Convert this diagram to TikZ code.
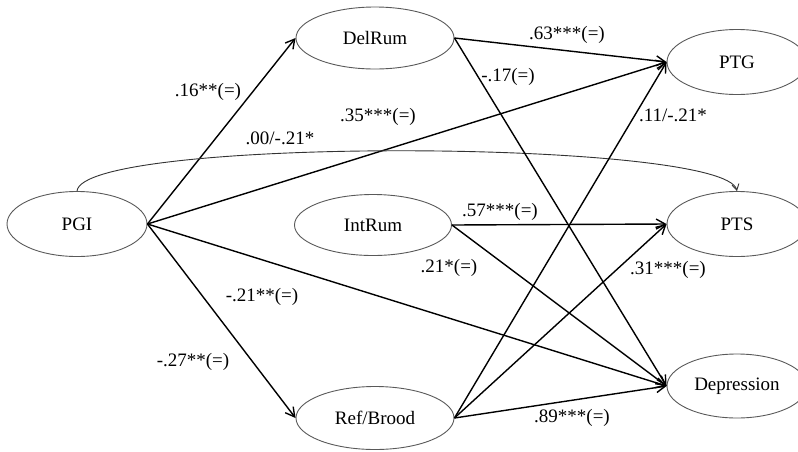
\documentclass[tikz,border=0pt]{standalone}
\usepackage{fontspec}
\setmainfont{Liberation Serif}
\usetikzlibrary{shapes.geometric, arrows.meta}

\begin{document}
\begin{tikzpicture}[x=1pt, y=-1pt,
        var/.style={ellipse, draw=black!65, line width=0.9pt, inner sep=0pt,
            font=\fontsize{19}{22}\selectfont},
        effect/.style={line width=1.4pt, -{Straight Barb[length=9pt,width=10pt]}},
        coef/.style={font=\fontsize{19}{22}\selectfont, inner sep=0pt}]

        % 0. Page frame (right-hand ellipses run off the edge)
        \useasboundingbox (0,0) rectangle (798,451);
        \clip (0,0) rectangle (798,451);

        % 1. Predictor
        \node[var, minimum width=140pt, minimum height=65pt] (PGI) at (77,224) {PGI};

        % 2. Rumination mediators
        \node[var, minimum width=158pt, minimum height=62pt] (DelRum) at (375,38) {DelRum};
        \node[var, minimum width=157pt, minimum height=61pt] (IntRum) at (373,225) {IntRum};
        \node[var, minimum width=158pt, minimum height=63pt] (RefBrood) at (375,418) {Ref/Brood};

        % 3. Outcomes
        \node[var, minimum width=140pt, minimum height=65pt] (PTG) at (737,62) {PTG};
        \node[var, minimum width=140pt, minimum height=65pt] (PTS) at (737,224) {PTS};
        \node[var, minimum width=140pt, minimum height=64pt] (Dep) at (737,386) {Depression};

        % 4. Paths out of PGI
        \draw[effect] (PGI.east) -- (DelRum.west);
        \draw[effect] (PGI.east) -- (PTG.west);
        \draw[effect] (PGI.east) -- (Dep.west);
        \draw[effect] (PGI.east) -- (RefBrood.west);
        \draw[line width=0.9pt, black!80, -{Straight Barb[length=6pt,width=7pt]}]
            (PGI.north) .. controls +(6,-55) and +(-12,-52) .. (PTS.north);

        % 5. Paths out of the mediators
        \draw[effect] (DelRum.east) -- (PTG.west);
        \draw[effect] (DelRum.east) -- (Dep.west);
        \draw[effect] (IntRum.east) -- (PTS.west);
        \draw[effect] (IntRum.east) -- (Dep.west);
        \draw[effect] (RefBrood.east) -- (PTG.west);
        \draw[effect] (RefBrood.east) -- (PTS.west);
        \draw[effect] (RefBrood.east) -- (Dep.west);

        % 6. Coefficients
        \node[coef] (c16) at (208,92) {.16**(=)};
        \node[coef] (c00) at (280,138) {.00/-.21*};
        \node[coef] (c35) at (378,117) {.35***(=)};
        \node[coef] (c63) at (567,35) {.63***(=)};
        \node[coef] (c17) at (508,77) {-.17(=)};
        \node[coef] (c11) at (673,115) {.11/-.21*};
        \node[coef] (c57) at (500,212) {.57***(=)};
        \node[coef] (c21) at (449,268) {.21*(=)};
        \node[coef] (c31) at (668,270) {.31***(=)};
        \node[coef] (cm21) at (262,297) {-.21**(=)};
        \node[coef] (c27) at (193,362) {-.27**(=)};
        \node[coef] (c89) at (572,418) {.89***(=)};

\end{tikzpicture}
\end{document}
